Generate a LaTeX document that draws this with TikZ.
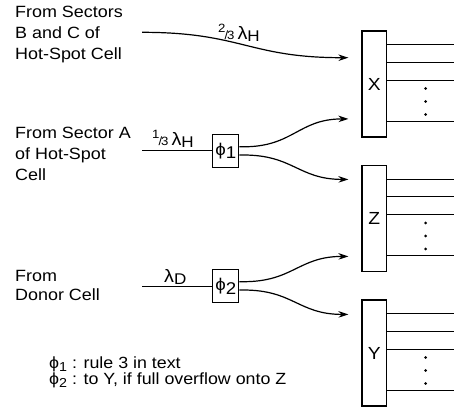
\documentclass[tikz,border=0pt]{standalone}
\usepackage{fontspec}
\setmainfont{Liberation Sans}[FakeStretch=1.1]
\usetikzlibrary{arrows.meta,calc}
\newcommand{\rfrac}[2]{{\fontsize{12}{12}\selectfont\raisebox{6.5pt}{#1}\kern-1pt/\kern-1pt#2}}
\newcommand{\lsub}[1]{\raisebox{-2.5pt}{\fontsize{15.5}{15.5}\selectfont #1}}
\begin{document}
\begin{tikzpicture}[x=1pt,y=-1pt,
  txt/.style={font=\fontsize{16.3}{19}\selectfont, inner sep=0pt, anchor=base west},
  lgd/.style={font=\fontsize{16.2}{18}\selectfont, inner sep=0pt, anchor=base west},
  queue/.style={draw, line width=1.2pt, minimum width=24.5pt, minimum height=106pt, inner sep=0pt, font=\fontsize{17.5}{17.5}\selectfont},
  phibox/.style={draw, line width=1.2pt, minimum width=26pt, minimum height=33pt, inner sep=0pt, font=\fontsize{17}{17}\selectfont},
  flow/.style={line width=1.2pt},
  arr/.style={flow, -{Stealth[length=10pt,width=6.5pt]}},
  rate/.style={font=\fontsize{18}{18}\selectfont, inner sep=0pt, anchor=base west},
  srv/.style={line width=1.1pt},
]
\useasboundingbox (0,0) rectangle (454,413);

% queues
\node[queue] (X) at (374.25,84) {X};
\node[queue] (Z) at (374.25,218.5) {Z};
\node[queue] (Y) at (374.25,353) {Y};
\foreach \b in {X,Z,Y}{
  \foreach \o in {14.5,32,50,91} \draw[srv] ($(\b.north east)+(0,\o)$) -- ++(67.5,0);
  \foreach \o in {58,71,84} \fill ($(\b.north east)+(38.5,\o)$) circle (1.5pt);
}

% arrow targets
\coordinate (xa) at ($(X.north west)+(-13,27.3)$);
\coordinate (xb) at ($(X.north west)+(-13,88.5)$);
\coordinate (za) at ($(Z.north west)+(-13,14.5)$);
\coordinate (zb) at ($(Z.north west)+(-13,91.5)$);
\coordinate (ya) at ($(Y.north west)+(-13,15)$);

% sources
\coordinate (s1) at (142,32.3);
\coordinate (s2) at (142,150.8);
\coordinate (s3) at (142,286.2);

% splitters
\node[phibox] (p1) at (225.85,150.8) {ϕ\raisebox{-3.5pt}{1}};
\node[phibox] (p2) at (225.85,286.2) {ϕ\raisebox{-3.5pt}{2}};

% flows
\draw[arr] (s1) .. controls +(100,0) and +(-100,0) .. (xa);
\draw[flow] (s2) -- (s2 -| p1.west);
\draw[flow] (s3) -- (s3 -| p2.west);
\draw[arr] ([yshift=4pt]p1.east) -- ++(4,0) .. controls +(50,0) and +(-50,0) .. (xb);
\draw[arr] ([yshift=-4.2pt]p1.east) -- ++(4,0) .. controls +(50,0) and +(-50,0) .. (za);
\draw[arr] ([yshift=4.5pt]p2.east) -- ++(4,0) .. controls +(50,0) and +(-50,0) .. (zb);
\draw[arr] ([yshift=-3.8pt]p2.east) -- ++(4,0) .. controls +(50,0) and +(-50,0) .. (ya);

% rate labels
\node[rate] (l1) at (218,39) {\rfrac{2}{3}\,λ\lsub{H}};
\node[rate] (l2) at (152,145) {\rfrac{1}{3}\,λ\lsub{H}};
\node[rate] (l3) at (164,282) {λ\lsub{D}};

% source texts
\node[txt] (t1a) at (15,17.3) {From Sectors};
\node[txt] (t1b) at (15,38.3) {B and C of};
\node[txt] (t1c) at (15,59) {Hot-Spot Cell};
\node[txt] (t2a) at (15,138.3) {From Sector A};
\node[txt] (t2b) at (15,159.5) {of Hot-Spot};
\node[txt] (t2c) at (15,180.5) {Cell};
\node[txt] (t3a) at (15,281.7) {From};
\node[txt] (t3b) at (15,300.5) {Donor Cell};

% legend
\node[lgd] (g1) at (49,368) {ϕ\raisebox{-3pt}{\fontsize{13}{13}\selectfont 1} : rule 3 in text};
\node[lgd] (g2) at (49,384) {ϕ\raisebox{-3pt}{\fontsize{13}{13}\selectfont 2} : to Y, if full overflow onto Z};
\end{tikzpicture}
\end{document}
